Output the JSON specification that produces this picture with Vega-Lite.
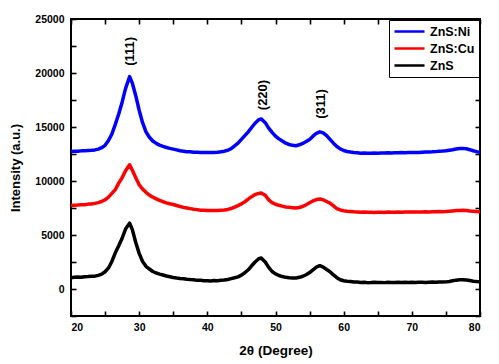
{
  "$schema": "https://vega.github.io/schema/vega-lite/v6.json",
  "width": 409,
  "height": 297,
  "autosize": "none",
  "padding": {"left": 71, "top": 19, "right": 19, "bottom": 48},
  "background": "white",
  "config": {
    "view": {"stroke": "black", "strokeWidth": 2},
    "font": "Liberation Sans",
    "axis": {
      "domain": false,
      "grid": false,
      "zindex": 2,
      "tickColor": "black",
      "tickWidth": 1.6,
      "labelFont": "Liberation Sans",
      "labelFontWeight": "bold",
      "labelFontSize": 10.5,
      "labelColor": "black",
      "titleFont": "Liberation Sans",
      "titleFontWeight": "bold",
      "titleColor": "black"
    }
  },
  "datasets": {
    "xrd": [
      {"t":20,"s":"ZnS","v":1050},{"t":20.5,"s":"ZnS","v":1090},{"t":21,"s":"ZnS","v":1100},{"t":21.5,"s":"ZnS","v":1080},{"t":22,"s":"ZnS","v":1140},{"t":22.5,"s":"ZnS","v":1150},{"t":23,"s":"ZnS","v":1170},{"t":23.5,"s":"ZnS","v":1190},{"t":24,"s":"ZnS","v":1260},{"t":24.5,"s":"ZnS","v":1380},
      {"t":25,"s":"ZnS","v":1600},{"t":25.5,"s":"ZnS","v":1950},{"t":26,"s":"ZnS","v":2550},{"t":26.5,"s":"ZnS","v":3350},{"t":27,"s":"ZnS","v":4000},{"t":27.5,"s":"ZnS","v":4700},{"t":28,"s":"ZnS","v":5550},{"t":28.6,"s":"ZnS","v":6100},{"t":29,"s":"ZnS","v":5500},{"t":29.5,"s":"ZnS","v":4300},
      {"t":30,"s":"ZnS","v":3300},{"t":30.5,"s":"ZnS","v":2550},{"t":31,"s":"ZnS","v":2100},{"t":31.5,"s":"ZnS","v":1850},{"t":32,"s":"ZnS","v":1620},{"t":32.5,"s":"ZnS","v":1480},{"t":33,"s":"ZnS","v":1380},{"t":33.5,"s":"ZnS","v":1300},{"t":34,"s":"ZnS","v":1200},{"t":34.5,"s":"ZnS","v":1130},
      {"t":35,"s":"ZnS","v":1060},{"t":35.5,"s":"ZnS","v":1010},{"t":36,"s":"ZnS","v":970},{"t":36.5,"s":"ZnS","v":940},{"t":37,"s":"ZnS","v":900},{"t":37.5,"s":"ZnS","v":870},{"t":38,"s":"ZnS","v":850},{"t":38.5,"s":"ZnS","v":800},{"t":39,"s":"ZnS","v":800},{"t":39.5,"s":"ZnS","v":770},
      {"t":40,"s":"ZnS","v":770},{"t":40.5,"s":"ZnS","v":750},{"t":41,"s":"ZnS","v":780},{"t":41.5,"s":"ZnS","v":770},{"t":42,"s":"ZnS","v":800},{"t":42.5,"s":"ZnS","v":830},{"t":43,"s":"ZnS","v":880},{"t":43.5,"s":"ZnS","v":960},{"t":44,"s":"ZnS","v":1040},{"t":44.5,"s":"ZnS","v":1120},
      {"t":45,"s":"ZnS","v":1280},{"t":45.5,"s":"ZnS","v":1500},{"t":46,"s":"ZnS","v":1780},{"t":46.5,"s":"ZnS","v":2150},{"t":47,"s":"ZnS","v":2500},{"t":47.5,"s":"ZnS","v":2780},{"t":47.9,"s":"ZnS","v":2870},{"t":48.5,"s":"ZnS","v":2500},{"t":49,"s":"ZnS","v":2000},{"t":49.5,"s":"ZnS","v":1620},
      {"t":50,"s":"ZnS","v":1400},{"t":50.5,"s":"ZnS","v":1250},{"t":51,"s":"ZnS","v":1150},{"t":51.5,"s":"ZnS","v":1080},{"t":52,"s":"ZnS","v":1040},{"t":52.5,"s":"ZnS","v":1020},{"t":53,"s":"ZnS","v":1020},{"t":53.5,"s":"ZnS","v":1080},{"t":54,"s":"ZnS","v":1180},{"t":54.5,"s":"ZnS","v":1320},
      {"t":55,"s":"ZnS","v":1520},{"t":55.5,"s":"ZnS","v":1780},{"t":56,"s":"ZnS","v":2020},{"t":56.5,"s":"ZnS","v":2160},{"t":57,"s":"ZnS","v":2020},{"t":57.5,"s":"ZnS","v":1800},{"t":58,"s":"ZnS","v":1600},{"t":58.5,"s":"ZnS","v":1300},{"t":59,"s":"ZnS","v":1050},{"t":59.5,"s":"ZnS","v":860},
      {"t":60,"s":"ZnS","v":760},{"t":60.5,"s":"ZnS","v":720},{"t":61,"s":"ZnS","v":690},{"t":61.5,"s":"ZnS","v":640},{"t":62,"s":"ZnS","v":640},{"t":62.5,"s":"ZnS","v":610},{"t":63,"s":"ZnS","v":620},{"t":63.5,"s":"ZnS","v":590},{"t":64,"s":"ZnS","v":600},{"t":64.5,"s":"ZnS","v":620},
      {"t":65,"s":"ZnS","v":600},{"t":65.5,"s":"ZnS","v":610},{"t":66,"s":"ZnS","v":590},{"t":66.5,"s":"ZnS","v":620},{"t":67,"s":"ZnS","v":610},{"t":67.5,"s":"ZnS","v":600},{"t":68,"s":"ZnS","v":630},{"t":68.5,"s":"ZnS","v":610},{"t":69,"s":"ZnS","v":620},{"t":69.5,"s":"ZnS","v":600},
      {"t":70,"s":"ZnS","v":620},{"t":70.5,"s":"ZnS","v":610},{"t":71,"s":"ZnS","v":630},{"t":71.5,"s":"ZnS","v":620},{"t":72,"s":"ZnS","v":600},{"t":72.5,"s":"ZnS","v":630},{"t":73,"s":"ZnS","v":640},{"t":73.5,"s":"ZnS","v":620},{"t":74,"s":"ZnS","v":650},{"t":74.5,"s":"ZnS","v":640},
      {"t":75,"s":"ZnS","v":660},{"t":75.5,"s":"ZnS","v":700},{"t":76,"s":"ZnS","v":760},{"t":76.5,"s":"ZnS","v":820},{"t":77,"s":"ZnS","v":860},{"t":77.5,"s":"ZnS","v":860},{"t":78,"s":"ZnS","v":830},{"t":78.5,"s":"ZnS","v":780},{"t":79,"s":"ZnS","v":720},{"t":79.5,"s":"ZnS","v":690},
      {"t":80,"s":"ZnS","v":670},
      {"t":20,"s":"ZnS:Cu","v":7730},{"t":20.5,"s":"ZnS:Cu","v":7760},{"t":21,"s":"ZnS:Cu","v":7770},{"t":21.5,"s":"ZnS:Cu","v":7810},{"t":22,"s":"ZnS:Cu","v":7800},{"t":22.5,"s":"ZnS:Cu","v":7860},{"t":23,"s":"ZnS:Cu","v":7870},{"t":23.5,"s":"ZnS:Cu","v":7930},{"t":24,"s":"ZnS:Cu","v":8000},{"t":24.5,"s":"ZnS:Cu","v":8100},
      {"t":25,"s":"ZnS:Cu","v":8260},{"t":25.5,"s":"ZnS:Cu","v":8500},{"t":26,"s":"ZnS:Cu","v":8850},{"t":26.5,"s":"ZnS:Cu","v":9200},{"t":27,"s":"ZnS:Cu","v":9800},{"t":27.5,"s":"ZnS:Cu","v":10300},{"t":28,"s":"ZnS:Cu","v":10950},{"t":28.6,"s":"ZnS:Cu","v":11500},{"t":29,"s":"ZnS:Cu","v":11000},{"t":29.5,"s":"ZnS:Cu","v":10300},
      {"t":30,"s":"ZnS:Cu","v":9650},{"t":30.5,"s":"ZnS:Cu","v":9250},{"t":31,"s":"ZnS:Cu","v":8950},{"t":31.5,"s":"ZnS:Cu","v":8700},{"t":32,"s":"ZnS:Cu","v":8500},{"t":32.5,"s":"ZnS:Cu","v":8350},{"t":33,"s":"ZnS:Cu","v":8200},{"t":33.5,"s":"ZnS:Cu","v":8080},{"t":34,"s":"ZnS:Cu","v":7980},{"t":34.5,"s":"ZnS:Cu","v":7890},
      {"t":35,"s":"ZnS:Cu","v":7820},{"t":35.5,"s":"ZnS:Cu","v":7730},{"t":36,"s":"ZnS:Cu","v":7640},{"t":36.5,"s":"ZnS:Cu","v":7560},{"t":37,"s":"ZnS:Cu","v":7500},{"t":37.5,"s":"ZnS:Cu","v":7440},{"t":38,"s":"ZnS:Cu","v":7380},{"t":38.5,"s":"ZnS:Cu","v":7350},{"t":39,"s":"ZnS:Cu","v":7300},{"t":39.5,"s":"ZnS:Cu","v":7290},
      {"t":40,"s":"ZnS:Cu","v":7270},{"t":40.5,"s":"ZnS:Cu","v":7260},{"t":41,"s":"ZnS:Cu","v":7280},{"t":41.5,"s":"ZnS:Cu","v":7270},{"t":42,"s":"ZnS:Cu","v":7300},{"t":42.5,"s":"ZnS:Cu","v":7320},{"t":43,"s":"ZnS:Cu","v":7370},{"t":43.5,"s":"ZnS:Cu","v":7450},{"t":44,"s":"ZnS:Cu","v":7580},{"t":44.5,"s":"ZnS:Cu","v":7720},
      {"t":45,"s":"ZnS:Cu","v":7880},{"t":45.5,"s":"ZnS:Cu","v":8080},{"t":46,"s":"ZnS:Cu","v":8320},{"t":46.5,"s":"ZnS:Cu","v":8550},{"t":47,"s":"ZnS:Cu","v":8740},{"t":47.5,"s":"ZnS:Cu","v":8850},{"t":47.9,"s":"ZnS:Cu","v":8880},{"t":48.5,"s":"ZnS:Cu","v":8680},{"t":49,"s":"ZnS:Cu","v":8250},{"t":49.5,"s":"ZnS:Cu","v":8000},
      {"t":50,"s":"ZnS:Cu","v":7850},{"t":50.5,"s":"ZnS:Cu","v":7750},{"t":51,"s":"ZnS:Cu","v":7670},{"t":51.5,"s":"ZnS:Cu","v":7600},{"t":52,"s":"ZnS:Cu","v":7560},{"t":52.5,"s":"ZnS:Cu","v":7530},{"t":53,"s":"ZnS:Cu","v":7500},{"t":53.5,"s":"ZnS:Cu","v":7550},{"t":54,"s":"ZnS:Cu","v":7650},{"t":54.5,"s":"ZnS:Cu","v":7800},
      {"t":55,"s":"ZnS:Cu","v":7980},{"t":55.5,"s":"ZnS:Cu","v":8150},{"t":56,"s":"ZnS:Cu","v":8280},{"t":56.5,"s":"ZnS:Cu","v":8330},{"t":57,"s":"ZnS:Cu","v":8250},{"t":57.5,"s":"ZnS:Cu","v":8100},{"t":58,"s":"ZnS:Cu","v":7950},{"t":58.5,"s":"ZnS:Cu","v":7700},{"t":59,"s":"ZnS:Cu","v":7450},{"t":59.5,"s":"ZnS:Cu","v":7320},
      {"t":60,"s":"ZnS:Cu","v":7250},{"t":60.5,"s":"ZnS:Cu","v":7200},{"t":61,"s":"ZnS:Cu","v":7180},{"t":61.5,"s":"ZnS:Cu","v":7150},{"t":62,"s":"ZnS:Cu","v":7140},{"t":62.5,"s":"ZnS:Cu","v":7110},{"t":63,"s":"ZnS:Cu","v":7120},{"t":63.5,"s":"ZnS:Cu","v":7100},{"t":64,"s":"ZnS:Cu","v":7110},{"t":64.5,"s":"ZnS:Cu","v":7090},
      {"t":65,"s":"ZnS:Cu","v":7100},{"t":65.5,"s":"ZnS:Cu","v":7110},{"t":66,"s":"ZnS:Cu","v":7090},{"t":66.5,"s":"ZnS:Cu","v":7120},{"t":67,"s":"ZnS:Cu","v":7100},{"t":67.5,"s":"ZnS:Cu","v":7110},{"t":68,"s":"ZnS:Cu","v":7120},{"t":68.5,"s":"ZnS:Cu","v":7100},{"t":69,"s":"ZnS:Cu","v":7130},{"t":69.5,"s":"ZnS:Cu","v":7120},
      {"t":70,"s":"ZnS:Cu","v":7130},{"t":70.5,"s":"ZnS:Cu","v":7120},{"t":71,"s":"ZnS:Cu","v":7140},{"t":71.5,"s":"ZnS:Cu","v":7130},{"t":72,"s":"ZnS:Cu","v":7150},{"t":72.5,"s":"ZnS:Cu","v":7130},{"t":73,"s":"ZnS:Cu","v":7160},{"t":73.5,"s":"ZnS:Cu","v":7150},{"t":74,"s":"ZnS:Cu","v":7170},{"t":74.5,"s":"ZnS:Cu","v":7160},
      {"t":75,"s":"ZnS:Cu","v":7170},{"t":75.5,"s":"ZnS:Cu","v":7200},{"t":76,"s":"ZnS:Cu","v":7230},{"t":76.5,"s":"ZnS:Cu","v":7260},{"t":77,"s":"ZnS:Cu","v":7280},{"t":77.5,"s":"ZnS:Cu","v":7290},{"t":78,"s":"ZnS:Cu","v":7260},{"t":78.5,"s":"ZnS:Cu","v":7220},{"t":79,"s":"ZnS:Cu","v":7200},{"t":79.5,"s":"ZnS:Cu","v":7170},
      {"t":80,"s":"ZnS:Cu","v":7150},
      {"t":20,"s":"ZnS:Ni","v":12730},{"t":20.5,"s":"ZnS:Ni","v":12750},{"t":21,"s":"ZnS:Ni","v":12760},{"t":21.5,"s":"ZnS:Ni","v":12790},{"t":22,"s":"ZnS:Ni","v":12790},{"t":22.5,"s":"ZnS:Ni","v":12830},{"t":23,"s":"ZnS:Ni","v":12850},{"t":23.5,"s":"ZnS:Ni","v":12880},{"t":24,"s":"ZnS:Ni","v":12950},{"t":24.5,"s":"ZnS:Ni","v":13080},
      {"t":25,"s":"ZnS:Ni","v":13300},{"t":25.5,"s":"ZnS:Ni","v":13750},{"t":26,"s":"ZnS:Ni","v":14350},{"t":26.5,"s":"ZnS:Ni","v":15250},{"t":27,"s":"ZnS:Ni","v":16200},{"t":27.5,"s":"ZnS:Ni","v":17300},{"t":28,"s":"ZnS:Ni","v":18550},{"t":28.6,"s":"ZnS:Ni","v":19670},{"t":29,"s":"ZnS:Ni","v":19050},{"t":29.5,"s":"ZnS:Ni","v":17900},
      {"t":30,"s":"ZnS:Ni","v":16550},{"t":30.5,"s":"ZnS:Ni","v":15400},{"t":31,"s":"ZnS:Ni","v":14550},{"t":31.5,"s":"ZnS:Ni","v":14050},{"t":32,"s":"ZnS:Ni","v":13700},{"t":32.5,"s":"ZnS:Ni","v":13480},{"t":33,"s":"ZnS:Ni","v":13320},{"t":33.5,"s":"ZnS:Ni","v":13200},{"t":34,"s":"ZnS:Ni","v":13100},{"t":34.5,"s":"ZnS:Ni","v":13020},
      {"t":35,"s":"ZnS:Ni","v":12950},{"t":35.5,"s":"ZnS:Ni","v":12880},{"t":36,"s":"ZnS:Ni","v":12800},{"t":36.5,"s":"ZnS:Ni","v":12760},{"t":37,"s":"ZnS:Ni","v":12710},{"t":37.5,"s":"ZnS:Ni","v":12700},{"t":38,"s":"ZnS:Ni","v":12670},{"t":38.5,"s":"ZnS:Ni","v":12670},{"t":39,"s":"ZnS:Ni","v":12640},{"t":39.5,"s":"ZnS:Ni","v":12650},
      {"t":40,"s":"ZnS:Ni","v":12640},{"t":40.5,"s":"ZnS:Ni","v":12630},{"t":41,"s":"ZnS:Ni","v":12650},{"t":41.5,"s":"ZnS:Ni","v":12660},{"t":42,"s":"ZnS:Ni","v":12700},{"t":42.5,"s":"ZnS:Ni","v":12760},{"t":43,"s":"ZnS:Ni","v":12850},{"t":43.5,"s":"ZnS:Ni","v":13000},{"t":44,"s":"ZnS:Ni","v":13250},{"t":44.5,"s":"ZnS:Ni","v":13500},
      {"t":45,"s":"ZnS:Ni","v":13850},{"t":45.5,"s":"ZnS:Ni","v":14200},{"t":46,"s":"ZnS:Ni","v":14550},{"t":46.5,"s":"ZnS:Ni","v":14950},{"t":47,"s":"ZnS:Ni","v":15350},{"t":47.5,"s":"ZnS:Ni","v":15650},{"t":47.9,"s":"ZnS:Ni","v":15750},{"t":48.5,"s":"ZnS:Ni","v":15400},{"t":49,"s":"ZnS:Ni","v":14900},{"t":49.5,"s":"ZnS:Ni","v":14500},
      {"t":50,"s":"ZnS:Ni","v":14150},{"t":50.5,"s":"ZnS:Ni","v":13900},{"t":51,"s":"ZnS:Ni","v":13700},{"t":51.5,"s":"ZnS:Ni","v":13500},{"t":52,"s":"ZnS:Ni","v":13380},{"t":52.5,"s":"ZnS:Ni","v":13300},{"t":53,"s":"ZnS:Ni","v":13270},{"t":53.5,"s":"ZnS:Ni","v":13350},{"t":54,"s":"ZnS:Ni","v":13480},{"t":54.5,"s":"ZnS:Ni","v":13650},
      {"t":55,"s":"ZnS:Ni","v":13850},{"t":55.5,"s":"ZnS:Ni","v":14150},{"t":56,"s":"ZnS:Ni","v":14420},{"t":56.5,"s":"ZnS:Ni","v":14550},{"t":57,"s":"ZnS:Ni","v":14450},{"t":57.5,"s":"ZnS:Ni","v":14200},{"t":58,"s":"ZnS:Ni","v":13850},{"t":58.5,"s":"ZnS:Ni","v":13500},{"t":59,"s":"ZnS:Ni","v":13200},{"t":59.5,"s":"ZnS:Ni","v":12980},
      {"t":60,"s":"ZnS:Ni","v":12820},{"t":60.5,"s":"ZnS:Ni","v":12730},{"t":61,"s":"ZnS:Ni","v":12680},{"t":61.5,"s":"ZnS:Ni","v":12640},{"t":62,"s":"ZnS:Ni","v":12610},{"t":62.5,"s":"ZnS:Ni","v":12580},{"t":63,"s":"ZnS:Ni","v":12590},{"t":63.5,"s":"ZnS:Ni","v":12570},{"t":64,"s":"ZnS:Ni","v":12580},{"t":64.5,"s":"ZnS:Ni","v":12590},
      {"t":65,"s":"ZnS:Ni","v":12580},{"t":65.5,"s":"ZnS:Ni","v":12600},{"t":66,"s":"ZnS:Ni","v":12590},{"t":66.5,"s":"ZnS:Ni","v":12610},{"t":67,"s":"ZnS:Ni","v":12600},{"t":67.5,"s":"ZnS:Ni","v":12620},{"t":68,"s":"ZnS:Ni","v":12610},{"t":68.5,"s":"ZnS:Ni","v":12630},{"t":69,"s":"ZnS:Ni","v":12620},{"t":69.5,"s":"ZnS:Ni","v":12640},
      {"t":70,"s":"ZnS:Ni","v":12640},{"t":70.5,"s":"ZnS:Ni","v":12650},{"t":71,"s":"ZnS:Ni","v":12640},{"t":71.5,"s":"ZnS:Ni","v":12670},{"t":72,"s":"ZnS:Ni","v":12680},{"t":72.5,"s":"ZnS:Ni","v":12690},{"t":73,"s":"ZnS:Ni","v":12700},{"t":73.5,"s":"ZnS:Ni","v":12720},{"t":74,"s":"ZnS:Ni","v":12750},{"t":74.5,"s":"ZnS:Ni","v":12770},
      {"t":75,"s":"ZnS:Ni","v":12800},{"t":75.5,"s":"ZnS:Ni","v":12850},{"t":76,"s":"ZnS:Ni","v":12900},{"t":76.5,"s":"ZnS:Ni","v":12960},{"t":77,"s":"ZnS:Ni","v":13000},{"t":77.5,"s":"ZnS:Ni","v":13020},{"t":78,"s":"ZnS:Ni","v":12980},{"t":78.5,"s":"ZnS:Ni","v":12900},{"t":79,"s":"ZnS:Ni","v":12800},{"t":79.5,"s":"ZnS:Ni","v":12720},
      {"t":80,"s":"ZnS:Ni","v":12650}
    ],
    "peaks": [
      {"t":28.65,"v":22000,"label":"(111)"},
      {"t":48.2,"v":17960,"label":"(220)"},
      {"t":56.7,"v":17130,"label":"(311)"}
    ]
  },
  "data": {"name": "xrd"},
  "resolve": {"axis": {"x": "independent", "y": "independent"}},
  "layer": [
    {
      "mark": {"type": "line", "strokeWidth": 3.5, "strokeJoin": "round"},
      "encoding": {
        "x": {"field": "t", "type": "quantitative",
              "scale": {"domain": [20, 80], "nice": false, "zero": false},
              "axis": {"orient": "bottom", "values": [20,25,30,35,40,45,50,55,60,65,70,75,80],
                       "labelExpr": "datum.value % 10 === 0 ? format(datum.value, 'd') : ''",
                       "tickSize": -5, "labelPadding": 11.5,
                       "title": "2θ (Degree)", "titleFontSize": 13.5, "titlePadding": 10}},
        "y": {"field": "v", "type": "quantitative",
              "scale": {"domain": [-2500, 25000], "nice": false, "zero": false},
              "axis": {"orient": "left", "values": [-2500,0,2500,5000,7500,10000,12500,15000,17500,20000,22500,25000],
                       "labelExpr": "datum.value % 5000 === 0 ? format(datum.value, 'd') : ''",
                       "tickSize": -5, "labelPadding": 12,
                       "title": "Intensity (a.u.)", "titleFontSize": 13, "titlePadding": 12}},
        "color": {"field": "s", "type": "nominal",
                  "scale": {"domain": ["ZnS:Ni", "ZnS:Cu", "ZnS"], "range": ["#0000ff", "#ff0000", "#000000"]},
                  "legend": {"orient": "top-right", "offset": 1, "title": null, "strokeColor": "black", "fillColor": "white",
                             "padding": 4, "symbolType": "stroke", "symbolSize": 900, "symbolStrokeWidth": 2.5,
                             "clipHeight": 15, "rowPadding": 2, "labelFont": "Liberation Sans", "labelFontWeight": "bold",
                             "labelFontSize": 12.5, "labelColor": "black", "labelOffset": 4}}
      }
    },
    {
      "data": {"name": "peaks"},
      "mark": {"type": "text", "angle": 270, "fontWeight": "bold", "fontSize": 13, "font": "Liberation Sans", "color": "black"},
      "encoding": {
        "x": {"field": "t", "type": "quantitative",
              "axis": {"orient": "top", "values": [20,25,30,35,40,45,50,55,60,65,70,75,80],
                       "tickSize": -5, "labels": false, "title": null}},
        "y": {"field": "v", "type": "quantitative",
              "axis": {"orient": "right", "values": [-2500,0,2500,5000,7500,10000,12500,15000,17500,20000,22500,25000],
                       "tickSize": -5, "labels": false, "title": null}},
        "text": {"field": "label"}
      }
    }
  ]
}
